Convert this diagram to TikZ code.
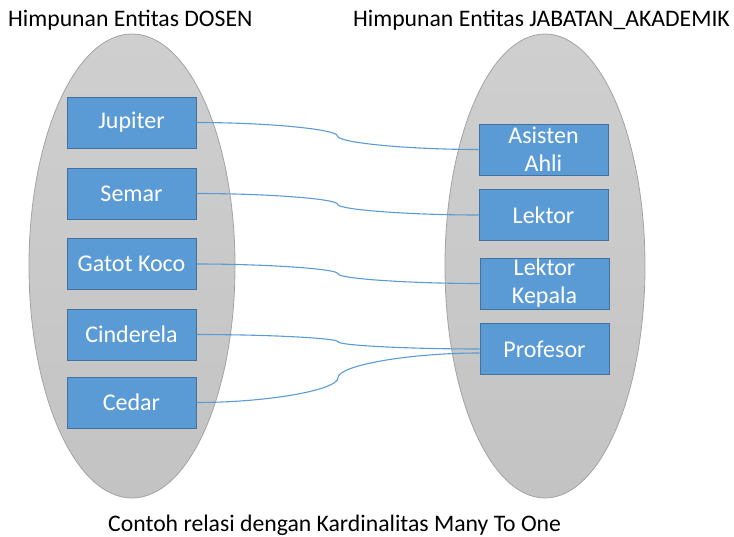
\documentclass[tikz,border=0pt]{standalone}
\usepackage{fontspec}
\setmainfont{Carlito}
\usetikzlibrary{calc}

\definecolor{boxfill}{HTML}{5B9BD5}
\definecolor{boxedge}{HTML}{41719C}
\definecolor{setedge}{HTML}{A3A3A3}
\definecolor{settop}{HTML}{CFCFCF}
\definecolor{setbottom}{HTML}{C3C3C3}

\tikzset{
  entity/.style={draw=boxedge, line width=1pt, fill=boxfill, text=white,
    minimum width=129pt, minimum height=51pt, inner sep=0pt, align=center,
    font=\fontsize{24}{28}\selectfont},
  title/.style={font=\fontsize{23.7}{28}\selectfont, inner sep=0pt},
  entityset/.style={draw=setedge, line width=0.8pt, top color=settop, bottom color=setbottom},
  link/.style={draw=boxfill, line width=1.1pt},
  % curved connector: horizontal at both ends, vertical tangent at the midpoint
  officecurve/.style={to path={
    let \p1=(\tikztostart), \p2=(\tikztotarget), \p3=($(\p1)!0.5!(\p2)$) in
    .. controls (\x1/2+\x3/2, \y1) and (\x3, \y1*3/4+\y2/4) .. (\p3)
    .. controls (\x3, \y1/4+\y2*3/4) and (\x3/2+\x2/2, \y2) .. (\tikztotarget)
  }}
}

\begin{document}
\begin{tikzpicture}[x=1pt, y=-1pt]
  \useasboundingbox (0,0) rectangle (734,536);

  % the two entity sets
  \shade[entityset] (132,266) ellipse [x radius=103pt, y radius=232pt];
  \shade[entityset] (545,266) ellipse [x radius=100pt, y radius=232pt];

  % titles and caption
  \node[title, anchor=base west] (tdosen) at (8,26) {Himpunan Entitas DOSEN};
  \node[title, anchor=base east] (tjab) at (730,26) {Himpunan Entitas JABATAN\_AKADEMIK};
  \node[title, anchor=base west] (caption) at (108,531) {Contoh relasi dengan Kardinalitas Many To One};

  % DOSEN entities
  \node[entity] (jup) at (131.5,122.5) {\raisebox{-1pt}{Jupiter}};
  \node[entity] (sem) at (131.5,193.5) {\raisebox{-1pt}{Semar}};
  \node[entity] (gat) at (131.5,264) {\raisebox{-1pt}{Gatot Koco}};
  \node[entity] (cin) at (131.5,334.5) {\raisebox{-1pt}{Cinderela}};
  \node[entity] (ced) at (131.5,402.5) {\raisebox{-1pt}{Cedar}};

  % JABATAN_AKADEMIK entities
  \node[entity] (asi) at (543.5,149.5) {Asisten\\Ahli};
  \node[entity] (lek) at (543.5,215) {\raisebox{-1pt}{Lektor}};
  \node[entity] (lkp) at (544.5,283.5) {Lektor\\Kepala};
  \node[entity] (prof) at (544.5,349) {\raisebox{-1pt}{Profesor}};
  \coordinate (profin) at ([yshift=-4pt]prof.west);

  % relationships
  \draw[link] (jup.east) to[officecurve] (asi.west);
  \draw[link] (sem.east) to[officecurve] (lek.west);
  \draw[link] (gat.east) to[officecurve] (lkp.west);
  \draw[link] (cin.east) to[officecurve] (prof.west);
  \draw[link] (ced.east) to[officecurve] (profin);
\end{tikzpicture}
\end{document}
